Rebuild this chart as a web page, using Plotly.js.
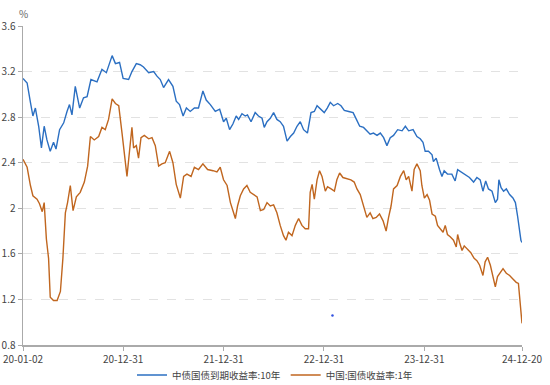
<!DOCTYPE html>
<html>
<head>
<meta charset="utf-8">
<script src="https://cdn.plot.ly/plotly-3.0.1.min.js"></script>
<style>
html,body{margin:0;padding:0;background:#fff;}
#chart{width:550px;height:385px;}
</style>
</head>
<body>
<div id="chart"></div>
<script>
// 中债国债到期收益率:10年
const dates10y = [
"2020-01-02","2020-01-17","2020-01-29","2020-02-07","2020-02-16","2020-02-28","2020-03-09","2020-03-19","2020-03-29","2020-04-10",
"2020-04-22","2020-05-01","2020-05-14","2020-05-29","2020-06-10","2020-06-19","2020-06-28","2020-07-10","2020-07-26","2020-08-09",
"2020-08-22","2020-09-05","2020-09-27","2020-10-15","2020-10-31","2020-11-21","2020-12-03","2020-12-18","2020-12-31","2021-01-20",
"2021-02-01","2021-02-17","2021-03-03","2021-03-15","2021-04-03","2021-04-21","2021-05-03","2021-05-15","2021-05-27","2021-06-14",
"2021-06-30","2021-07-12","2021-07-24","2021-08-06","2021-08-18","2021-09-01","2021-09-16","2021-10-01","2021-10-17","2021-10-29",
"2021-11-13","2021-12-01","2021-12-17","2021-12-31","2022-01-10","2022-01-22","2022-02-03","2022-02-15","2022-02-24","2022-03-08",
"2022-03-20","2022-03-28","2022-04-10","2022-04-25","2022-05-07","2022-05-20","2022-05-28","2022-06-07","2022-06-19","2022-07-01",
"2022-07-13","2022-07-25","2022-08-06","2022-08-19","2022-08-31","2022-09-12","2022-09-24","2022-10-06","2022-10-18","2022-11-01",
"2022-11-14","2022-11-26","2022-12-06","2022-12-18","2023-01-01","2023-01-12","2023-01-23","2023-02-04","2023-02-19","2023-03-03",
"2023-03-15","2023-03-31","2023-04-16","2023-04-28","2023-05-10","2023-05-24","2023-06-05","2023-06-17","2023-06-29","2023-07-12",
"2023-07-24","2023-08-05","2023-08-17","2023-08-29","2023-09-10","2023-09-25","2023-10-11","2023-10-23","2023-11-04","2023-11-20",
"2023-12-04","2023-12-16","2023-12-26","2024-01-03","2024-01-15","2024-01-28","2024-02-02","2024-02-12","2024-02-24","2024-03-04",
"2024-03-12","2024-03-24","2024-04-09","2024-04-21","2024-04-30","2024-05-12","2024-05-28","2024-06-12","2024-06-27","2024-07-09",
"2024-07-21","2024-07-31","2024-08-10","2024-08-20","2024-09-02","2024-09-14","2024-09-22","2024-09-27","2024-10-05","2024-10-14",
"2024-10-24","2024-11-05","2024-11-17","2024-11-26","2024-12-04","2024-12-11","2024-12-16","2024-12-20"
];
const yield10y = [
3.14,3.10,2.93,2.81,2.88,2.72,2.53,2.72,2.60,2.50,
2.58,2.52,2.69,2.75,2.85,2.91,2.82,3.07,2.88,2.97,
2.98,3.13,3.11,3.22,3.19,3.34,3.27,3.28,3.14,3.13,
3.20,3.27,3.26,3.24,3.19,3.20,3.16,3.13,3.06,3.13,
3.07,2.94,2.91,2.81,2.88,2.85,2.88,2.88,3.03,2.95,
2.91,2.85,2.87,2.76,2.79,2.69,2.74,2.81,2.78,2.83,
2.81,2.82,2.76,2.84,2.81,2.79,2.71,2.76,2.79,2.84,
2.78,2.76,2.72,2.59,2.63,2.66,2.72,2.76,2.69,2.66,
2.84,2.85,2.90,2.87,2.84,2.88,2.93,2.90,2.92,2.90,
2.86,2.85,2.84,2.78,2.72,2.71,2.68,2.65,2.66,2.64,
2.66,2.62,2.55,2.62,2.64,2.69,2.68,2.72,2.68,2.69,
2.63,2.61,2.58,2.50,2.50,2.47,2.41,2.44,2.34,2.28,
2.33,2.30,2.30,2.24,2.34,2.32,2.30,2.27,2.23,2.27,
2.25,2.15,2.24,2.17,2.15,2.05,2.08,2.25,2.18,2.15,
2.17,2.12,2.09,2.05,1.93,1.79,1.72,1.70
];

// 中国:国债收益率:1年
const dates1y = [
"2020-01-02","2020-01-17","2020-01-29","2020-02-07","2020-02-22","2020-03-02","2020-03-12","2020-03-19","2020-03-27","2020-04-04",
"2020-04-10","2020-04-22","2020-05-05","2020-05-17","2020-05-26","2020-06-04","2020-06-12","2020-06-22","2020-07-02","2020-07-14",
"2020-07-28","2020-08-12","2020-08-24","2020-09-03","2020-09-17","2020-10-03","2020-10-15","2020-10-27","2020-11-08","2020-11-21",
"2020-12-03","2020-12-15","2020-12-27","2021-01-14","2021-01-24","2021-02-01","2021-02-07","2021-02-17","2021-02-25","2021-03-06",
"2021-03-18","2021-04-03","2021-04-15","2021-04-27","2021-05-09","2021-05-21","2021-06-02","2021-06-18","2021-06-30","2021-07-12",
"2021-07-27","2021-08-08","2021-08-20","2021-09-04","2021-09-16","2021-10-01","2021-10-17","2021-11-03","2021-11-23","2021-12-07",
"2021-12-19","2021-12-31","2022-01-13","2022-01-25","2022-02-03","2022-02-12","2022-02-20","2022-03-02","2022-03-14","2022-03-26",
"2022-04-07","2022-04-19","2022-05-02","2022-05-14","2022-05-26","2022-06-07","2022-06-19","2022-07-01","2022-07-13","2022-07-25",
"2022-08-06","2022-08-15","2022-08-24","2022-09-06","2022-09-18","2022-09-30","2022-10-12","2022-10-24","2022-11-05","2022-11-11",
"2022-11-18","2022-11-26","2022-12-06","2022-12-15","2022-12-24","2023-01-05","2023-01-13","2023-01-26","2023-02-07","2023-02-16",
"2023-02-26","2023-03-10","2023-03-25","2023-04-08","2023-04-20","2023-04-30","2023-05-12","2023-05-24","2023-06-05","2023-06-17",
"2023-06-27","2023-07-09","2023-07-21","2023-08-03","2023-08-14","2023-08-23","2023-09-01","2023-09-10","2023-09-23","2023-10-05",
"2023-10-17","2023-10-26","2023-11-04","2023-11-16","2023-11-24","2023-12-04","2023-12-16","2023-12-22","2023-12-31","2024-01-10",
"2024-01-19","2024-01-28","2024-02-09","2024-02-17","2024-02-27","2024-03-08","2024-03-16","2024-03-24","2024-04-03","2024-04-15",
"2024-04-25","2024-04-30","2024-05-07","2024-05-16","2024-05-24","2024-06-05","2024-06-17","2024-06-29","2024-07-09","2024-07-19",
"2024-07-31","2024-08-08","2024-08-17","2024-08-27","2024-09-05","2024-09-14","2024-09-22","2024-10-02","2024-10-12","2024-10-24",
"2024-11-05","2024-11-17","2024-11-29","2024-12-07","2024-12-14","2024-12-20"
];
const yield1y = [
2.43,2.36,2.20,2.11,2.08,2.04,1.97,2.05,1.73,1.56,
1.22,1.19,1.19,1.27,1.56,1.96,2.05,2.20,1.98,2.10,
2.14,2.23,2.37,2.63,2.60,2.63,2.71,2.69,2.78,2.96,
2.92,2.90,2.66,2.28,2.52,2.71,2.53,2.55,2.44,2.62,
2.64,2.61,2.62,2.55,2.37,2.39,2.40,2.50,2.40,2.21,
2.09,2.28,2.30,2.28,2.36,2.34,2.39,2.34,2.33,2.32,
2.36,2.25,2.20,2.05,1.98,1.91,2.02,2.11,2.17,2.20,
2.14,2.12,2.10,1.98,1.99,2.05,2.02,2.03,1.96,1.85,
1.76,1.72,1.79,1.76,1.85,1.91,1.85,1.82,1.82,2.14,
2.21,2.08,2.25,2.33,2.28,2.15,2.19,2.17,2.15,2.25,
2.31,2.27,2.26,2.25,2.23,2.17,2.12,2.02,1.92,1.96,
1.91,1.92,1.95,1.89,1.80,1.92,2.02,2.17,2.20,2.28,
2.33,2.25,2.28,2.15,2.34,2.39,2.33,2.20,2.09,2.12,
2.07,1.95,1.93,1.85,1.82,1.79,1.85,1.77,1.75,1.72,
1.66,1.77,1.70,1.63,1.67,1.64,1.61,1.56,1.54,1.50,
1.41,1.53,1.57,1.50,1.41,1.31,1.40,1.44,1.47,1.43,
1.41,1.38,1.35,1.34,1.15,0.99
];

// stray point visible in the source picture
const strayDate = ["2023-01-31"];
const strayValue = [1.06];

const xTickVals = ["2020-01-02","2020-12-31","2021-12-31","2022-12-31","2023-12-31","2024-12-20"];
const xTickText = ["20-01-02","20-12-31","21-12-31","22-12-31","23-12-31","24-12-20"];
const yTickVals = [0.8,1.2,1.6,2.0,2.4,2.8,3.2,3.6];
const yTickText = ["0.8","1.2","1.6","2","2.4","2.8","3.2","3.6"];

const name10y = "中债国债到期收益率:10年";
const name1y = "中国:国债收益率:1年";

const FONT = "'Noto Sans CJK SC', 'Noto Sans', sans-serif";

const traces = [
  {x: dates10y, y: yield10y, type: "scatter", mode: "lines", name: name10y,
   line: {color: "#2b6fc2", width: 1.4}},
  {x: dates1y, y: yield1y, type: "scatter", mode: "lines", name: name1y,
   line: {color: "#c0661f", width: 1.4}},
  {x: strayDate, y: strayValue, type: "scatter", mode: "markers", showlegend: false,
   hoverinfo: "skip", marker: {color: "#3050e0", size: 2.5}}
];

const layout = {
  width: 550, height: 385,
  margin: {l: 23, r: 28, t: 26, b: 40, pad: 0},
  paper_bgcolor: "#fff", plot_bgcolor: "#fff",
  font: {family: FONT, size: 10, color: "#444"},
  showlegend: true,
  legend: {orientation: "h", x: 0.5, xref: "container", xanchor: "center",
           y: 0.026, yref: "container", yanchor: "middle",
           font: {family: FONT, size: 9.5, color: "#444"}, itemwidth: 30,
           traceorder: "normal", bgcolor: "rgba(0,0,0,0)"},
  xaxis: {type: "date", range: ["2020-01-02", "2024-12-20"],
          tickmode: "array", tickvals: xTickVals, ticktext: xTickText,
          ticks: "outside", ticklen: 4, tickcolor: "#aaa", tickwidth: 1,
          showline: true, linecolor: "#aaa", linewidth: 1.5,
          showgrid: false, zeroline: false, automargin: false,
          tickfont: {family: FONT, size: 10, color: "#444"}},
  yaxis: {range: [0.8, 3.6], tickmode: "array", tickvals: yTickVals, ticktext: yTickText,
          ticks: "outside", ticklen: 4, tickcolor: "#aaa", tickwidth: 1,
          showline: true, linecolor: "#aaa", linewidth: 1.5,
          showgrid: true, gridcolor: "#e2e2e2", griddash: "dash", gridwidth: 1,
          zeroline: false, automargin: false,
          tickfont: {family: FONT, size: 10, color: "#444"}},
  annotations: [
    {text: "%", xref: "paper", yref: "paper", x: 0, y: 1, xanchor: "center", yanchor: "middle",
     yshift: 13, showarrow: false, font: {family: FONT, size: 10, color: "#666"}}
  ]
};

Plotly.newPlot("chart", traces, layout, {displayModeBar: false, staticPlot: true});
</script>
</body>
</html>
